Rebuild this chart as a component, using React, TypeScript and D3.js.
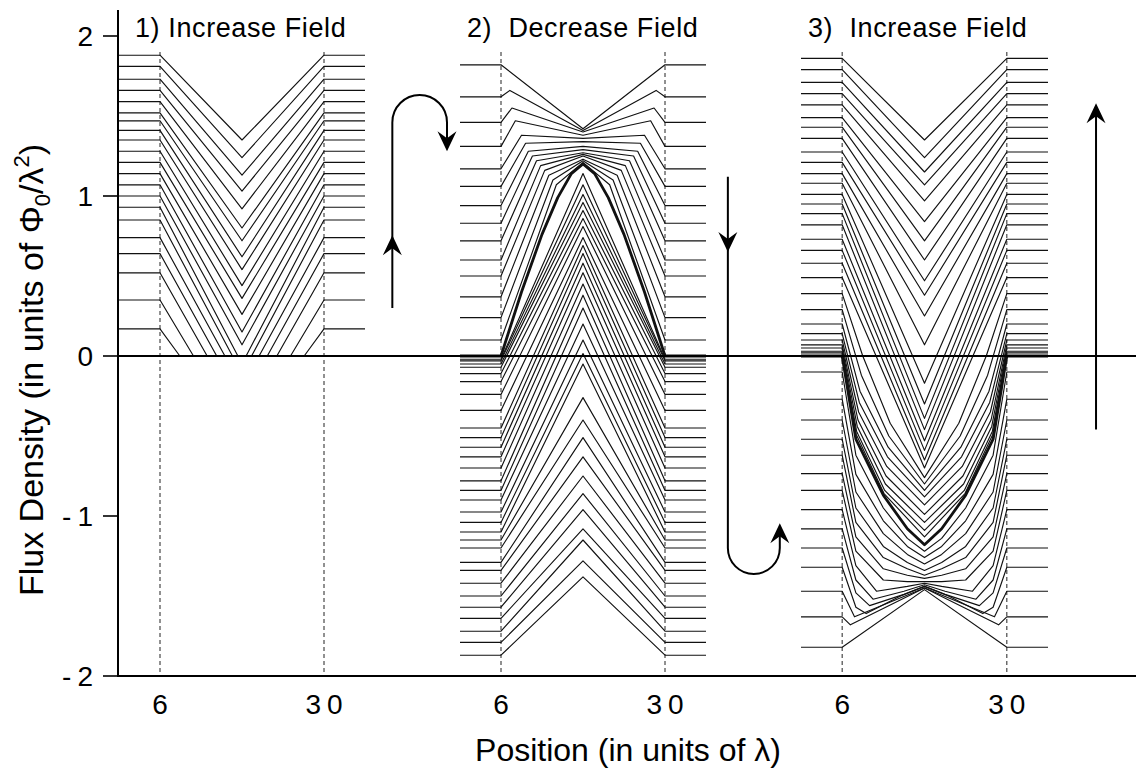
import React from 'react';
import * as d3 from 'd3';

// ---------- DATA (flux density in units of Phi0/lambda^2, position in units of lambda) ----------
// Each profile: plateau value outside the sample (edge), value at the centre (p = 18),
// and knee points (positions / values) read inside the left half (mirrored on the right half).

// Panel 1: increase field from zero
const inc1Edge = [1.88, 1.81, 1.73, 1.66, 1.59, 1.52, 1.47, 1.41, 1.35, 1.28, 1.21, 1.14, 1.07, 1.0, 0.93, 0.85, 0.74, 0.64, 0.52, 0.35, 0.17];
const inc1Center = [1.35, 1.24, 1.13, 1.03, 0.92, 0.8, 0.72, 0.62, 0.54, 0.44, 0.36, 0.26, 0.15, 0.07, 0, 0, 0, 0, 0, 0, 0];
const inc1KneeP: number[][] = [[], [], [], [], [], [], [], [], [], [], [], [], [], [], [17.4], [16.6], [15.5], [14.3], [12.9], [10.9], [8.9]];
const inc1KneeB: number[][] = [[], [], [], [], [], [], [], [], [], [], [], [], [], [], [0], [0], [0], [0], [0], [0], [0]];

// Panel 2: decrease field
const decEdge = [1.82, 1.62, 1.46, 1.31, 1.17, 1.06, 0.94, 0.83, 0.72, 0.6, 0.5, 0.37, 0.24, 0.1, 0.0,
  -0.02, -0.03, -0.05, -0.07, -0.11, -0.16, -0.24, -0.34, -0.45, -0.51, -0.57, -0.63, -0.7, -0.78, -0.84,
  -0.9, -0.975, -1.04, -1.1, -1.15, -1.2, -1.29, -1.34, -1.42, -1.5, -1.57, -1.64, -1.72, -1.79, -1.87];
const decCenter = [1.42, 1.41, 1.4, 1.38, 1.36, 1.34, 1.31, 1.29, 1.27, 1.26, 1.25, 1.23, 1.22, 1.21, 1.2,
  1.14, 1.07, 1.01, 0.96, 0.91, 0.86, 0.81, 0.74, 0.69, 0.64, 0.58, 0.52, 0.45, 0.38, 0.3,
  0.2, 0.1, 0.015, -0.05, -0.26, -0.4, -0.51, -0.63, -0.75, -0.86, -0.96, -1.08, -1.15, -1.28, -1.38];
const decKneeP: number[][] = [[], [7.3], [7.6], [8.1], [9.0], [9.6], [10.0], [10.6], [11.2], [11.8], [12.4], [13.0], [13.6], [14.1],
  [9.0, 12.0, 14.3, 16.3]];
const decKneeB: number[][] = [[], [1.66], [1.55], [1.47], [1.38], [1.33], [1.28], [1.25], [1.22], [1.19], [1.16], [1.13], [1.1], [1.07],
  [0.4, 0.76, 0.99, 1.14]];
const decThick = 14;

// Panel 3: increase field again
const inc3Edge = [1.86, 1.79, 1.71, 1.64, 1.57, 1.49, 1.43, 1.36, 1.275, 1.21, 1.14, 1.08, 1.01, 0.95, 0.89,
  0.82, 0.73, 0.66, 0.58, 0.49, 0.39, 0.29, 0.2, 0.14, 0.1, 0.07, 0.05, 0.03, 0.02, 0.0,
  -0.1, -0.27, -0.4, -0.52, -0.62, -0.735, -0.84, -0.96, -1.08, -1.2, -1.32, -1.47, -1.63, -1.82];
const inc3Center = [1.35, 1.24, 1.15, 1.07, 0.97, 0.84, 0.72, 0.6, 0.47, 0.38, 0.25, 0.07, -0.17, -0.3, -0.39,
  -0.46, -0.53, -0.59, -0.65, -0.7, -0.76, -0.8, -0.84, -0.88, -0.93, -0.99, -1.04, -1.09, -1.13, -1.18,
  -1.22, -1.26, -1.3, -1.34, -1.37, -1.39, -1.41, -1.42, -1.43, -1.44, -1.44, -1.45, -1.45, -1.46];
const inc3KneeP: number[][] = [[], [], [], [], [], [], [], [], [], [], [], [], [], [], [],
  [], [], [], [], [], [9.0, 13.0], [8.8, 12.8], [8.6, 12.7], [8.5, 12.6], [8.4, 12.5], [8.3, 12.4], [8.2, 12.3], [8.1, 12.2], [8.05, 12.1],
  [8.0, 12.0, 15.5],
  [8.0, 12.0, 15.5], [8.0, 12.0, 15.5], [8.0, 12.0, 15.5], [8.0, 12.0, 15.5], [8.0, 12.0, 15.5], [8.0, 12.0, 15.5], [8.0, 12.0, 15.5],
  [8.0, 11.0, 15.5], [8.0, 10.5, 15.0], [8.0, 10.0, 15.0], [8.0, 9.5, 14.5], [7.8], [7.2], []];
const inc3KneeB: number[][] = [[], [], [], [], [], [], [], [], [], [], [], [], [], [], [],
  [], [], [], [], [], [0.0, -0.42], [-0.12, -0.5], [-0.22, -0.57], [-0.29, -0.63], [-0.35, -0.69], [-0.4, -0.75], [-0.44, -0.8], [-0.47, -0.84], [-0.49, -0.86],
  [-0.52, -0.87, -1.08],
  [-0.62, -0.95, -1.14], [-0.74, -1.03, -1.19], [-0.85, -1.11, -1.24], [-0.95, -1.19, -1.29], [-1.04, -1.26, -1.33], [-1.13, -1.33, -1.37], [-1.22, -1.4, -1.41],
  [-1.31, -1.47, -1.44], [-1.4, -1.52, -1.47], [-1.48, -1.56, -1.49], [-1.57, -1.61, -1.5], [-1.63], [-1.68], []];
const inc3Thick = 29;

const panelTitles = ['1) Increase Field', '2)  Decrease Field', '3)  Increase Field'];
const sampleEdges = [6, 30];
const yTicks = [2, 1, 0, -1, -2];

// ---------- helpers ----------
type Pt = [number, number];
function profile(e: number, c: number, kp: number[] | undefined, kb: number[] | undefined): Pt[] {
  const left: Pt[] = [[0, e], [sampleEdges[0], e]];
  (kp || []).forEach((p, i) => left.push([p, (kb || [])[i]]));
  const right: Pt[] = left.slice().reverse().map(([p, b]) => [36 - p, b] as Pt);
  return [...left, [18, c], ...right];
}

function arrowHead(tx: number, ty: number, dx: number, dy: number, L = 20, w = 9.5, notch = 7) {
  const px = -dy, py = dx;
  const bx = tx - L * dx, by = ty - L * dy;
  const nx = tx - (L - notch) * dx, ny = ty - (L - notch) * dy;
  return `M${tx},${ty}L${bx + w * px},${by + w * py}L${nx},${ny}L${bx - w * px},${by - w * py}Z`;
}

export default function App() {
  const y = d3.scaleLinear().domain([-2, 2]).range([676, 36]);
  const xs = [
    d3.scaleLinear().domain([0, 36]).range([119, 365]),
    d3.scaleLinear().domain([0, 36]).range([460, 706]),
    d3.scaleLinear().domain([0, 36]).range([801, 1048]),
  ];
  const panels = [
    { edge: inc1Edge, center: inc1Center, kp: inc1KneeP, kb: inc1KneeB, thick: -1 },
    { edge: decEdge, center: decCenter, kp: decKneeP, kb: decKneeB, thick: decThick },
    { edge: inc3Edge, center: inc3Center, kp: inc3KneeP, kb: inc3KneeB, thick: inc3Thick },
  ];
  const axisLeft = 118, axisRight = 1136, axisBottom = y(-2), axisTop = 10;
  const font = "'Liberation Sans', Arial, Helvetica, sans-serif";

  // arrows
  const a1x0 = xs[0](40), a1x1 = xs[0](48), a1r = (a1x1 - a1x0) / 2;
  const a1Path = `M${a1x0},${y(0.3)}L${a1x0},${y(1.46)}A${a1r},${a1r} 0 0 1 ${a1x1},${y(1.46)}L${a1x1},${y(1.36)}`;
  const a2x0 = xs[1](39.2), a2x1 = xs[1](46.8), a2r = (a2x1 - a2x0) / 2;
  const a2Path = `M${a2x0},${y(1.12)}L${a2x0},${y(-1.2)}A${a2r},${a2r} 0 0 0 ${a2x1},${y(-1.2)}L${a2x1},${y(-1.1)}`;
  const a3x = xs[2](43);
  const a3Path = `M${a3x},${y(-0.46)}L${a3x},${y(1.5)}`;

  return (
    <svg width={1136} height={774} style={{ position: 'absolute', left: 0, top: 0, background: '#fff' }}
      fontFamily={font}>
      <rect x={0} y={0} width={1136} height={774} fill="#fff" />
      {/* dashed sample edges */}
      {xs.map((x, i) => sampleEdges.map((p) => (
        <line key={`d${i}-${p}`} x1={x(p)} x2={x(p)} y1={y(1.9)} y2={axisBottom}
          stroke="#222" strokeWidth={1} strokeDasharray="4,3" />
      )))}
      {/* profiles */}
      {panels.map((pn, i) => {
        const line = d3.line<Pt>().x((d) => xs[i](d[0])).y((d) => y(d[1]));
        return (
          <g key={`p${i}`}>
            {pn.edge.map((e, j) => (
              <path key={j} d={line(profile(e, pn.center[j], pn.kp[j], pn.kb[j])) || ''}
                fill="none" stroke="#111" strokeWidth={j === pn.thick ? 2.8 : 1.15} strokeLinejoin="round" />
            ))}
          </g>
        );
      })}
      {/* zero line */}
      <line x1={axisLeft} x2={axisRight} y1={y(0)} y2={y(0)} stroke="#000" strokeWidth={1.8} />
      {/* axes */}
      <line x1={axisLeft} x2={axisLeft} y1={axisTop} y2={axisBottom + 1} stroke="#000" strokeWidth={2} />
      <line x1={axisLeft} x2={axisRight} y1={axisBottom} y2={axisBottom} stroke="#000" strokeWidth={2} />
      {yTicks.map((t) => (
        <g key={`yt${t}`}>
          <line x1={axisLeft - 15} x2={axisLeft} y1={y(t)} y2={y(t)} stroke="#000" strokeWidth={1.6} />
          <text x={93} y={y(t) + 10} textAnchor="end" fontSize={28} fill="#000">
            {t < 0 ? (<><tspan>-</tspan><tspan dx={6}>{Math.abs(t)}</tspan></>) : String(t)}
          </text>
        </g>
      ))}
      {xs.map((x, i) => sampleEdges.map((p) => (
        <text key={`xt${i}-${p}`} x={x(p)} y={714} textAnchor="middle" fontSize={28} fill="#000"
          letterSpacing={p >= 10 ? 6 : 0} dx={p >= 10 ? 3 : 0}>{String(p)}</text>
      )))}
      {/* panel titles */}
      {panelTitles.map((t, i) => (
        <text key={`pt${i}`} x={xs[i](0) + (i === 0 ? 16 : 7)} y={37} fontSize={27} fill="#000"
          style={{ whiteSpace: 'pre' }} letterSpacing={0.6}>{t}</text>
      ))}
      {/* axis titles */}
      <text x={628} y={761} textAnchor="middle" fontSize={32} fill="#000">Position (in units of λ)</text>
      <text transform={`translate(43,${y(0) + 14}) rotate(-90)`} textAnchor="middle" fontSize={34} fill="#000">
        <tspan>Flux Density (in units of Φ</tspan>
        <tspan dy={7} fontSize={22}>0</tspan>
        <tspan dy={-7}>/λ</tspan>
        <tspan dy={-14} fontSize={22}>2</tspan>
        <tspan dy={14}>)</tspan>
      </text>
      {/* arrows */}
      <g stroke="#000" strokeWidth={2} fill="none">
        <path d={a1Path} />
        <path d={a2Path} />
        <path d={a3Path} />
      </g>
      <g fill="#000">
        <path d={arrowHead(a1x0, y(0.755), 0, -1)} />
        <path d={arrowHead(a1x1, y(1.28), 0, 1)} />
        <path d={arrowHead(a2x0, y(0.65), 0, 1)} />
        <path d={arrowHead(a2x1, y(-1.045), 0, -1)} />
        <path d={arrowHead(a3x, y(1.58), 0, -1)} />
      </g>
    </svg>
  );
}
